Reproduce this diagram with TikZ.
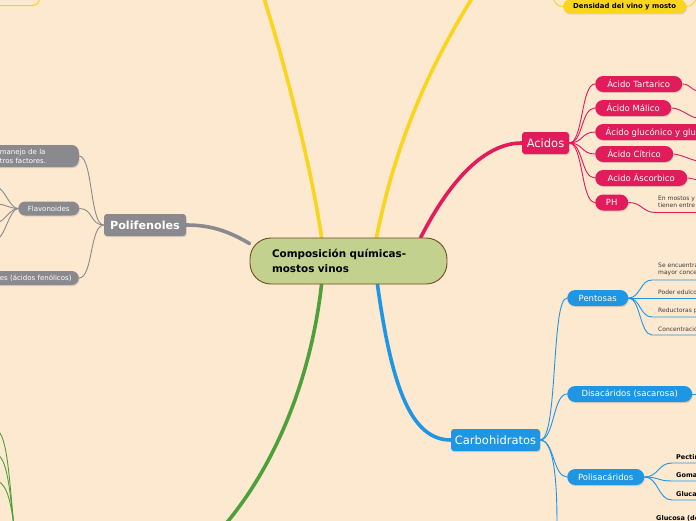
\documentclass[tikz,border=0pt]{standalone}
\usepackage{fontspec}
\setmainfont{DejaVu Sans}
\usepackage{tikz}
\usetikzlibrary{shadows}
\definecolor{Fondo}{RGB}{253,232,208}
\definecolor{Rosa}{RGB}{226,27,90}
\definecolor{Azul}{RGB}{30,150,228}
\definecolor{Gris}{RGB}{138,138,142}
\definecolor{Amarillo}{RGB}{250,213,30}
\definecolor{Verde}{RGB}{78,160,58}
\definecolor{Oliva}{RGB}{194,209,142}
\definecolor{Marron}{RGB}{115,75,30}
\definecolor{Nota}{RGB}{60,60,60}
\pgfdeclarelayer{fondo}
\pgfdeclarelayer{rami}
\pgfsetlayers{fondo,rami,main}
\tikzset{
	sombra/.style={drop shadow={shadow xshift=0.7pt,shadow yshift=-1.2pt,opacity=0.25}},
	pill/.style={sombra, anchor=west, rounded corners=8pt, minimum height=16pt, inner xsep=0pt, inner ysep=0pt, text=white, font=\fontsize{8.5}{10}\selectfont},
	capo/.style={sombra, rounded corners=3pt, minimum height=22pt, inner xsep=0pt, inner ysep=0pt, text=white, font=\fontsize{11.5}{13}\selectfont},
	gpill/.style={sombra, fill=Gris, rounded corners=7pt, minimum height=14pt, inner ysep=0pt, text=white, font=\fontsize{7}{9}\selectfont},
	nota/.style={anchor=west, inner sep=0pt, align=left, text=Nota, font=\fontsize{6}{7}\selectfont},
	notab/.style={anchor=west, inner sep=0pt, text=black, font=\fontsize{6.5}{7.5}\selectfont\bfseries},
	ramo/.style={line width=3.6pt, line cap=round},
	filo/.style={line width=0.9pt},
}
\begin{document}
\begin{tikzpicture}[x=1pt,y=-1pt]
	\useasboundingbox (0,0) rectangle (696,520);
	\clip (0,0) rectangle (696,520);
	\begin{pgfonlayer}{fondo}
		\fill[Fondo] (-5,-5) rectangle (701,525);
	\end{pgfonlayer}
	% Nodes:
	\node[draw=Marron, line width=0.9pt, fill=Oliva, rounded corners=21pt, minimum width=197pt, minimum height=46pt, text width=153pt, inner xsep=22pt, align=left, font=\fontsize{10.4}{15}\selectfont\bfseries] (Cen) at (348.5,261) {Composición químicas-\\mostos vinos};
	\node[capo, fill=Rosa, minimum width=47pt] (A0) at (545.5,143) {Acidos};
	\node[pill, fill=Rosa, minimum width=87pt] (A1) at (595,84) {Ácido Tartarico};
	\node[pill, fill=Rosa, minimum width=76pt] (A2) at (595,108) {Ácido Málico};
	\node[pill, fill=Rosa, inner xsep=10.5pt] (A3) at (595,132) {Ácido glucónico y glucurónico};
	\node[pill, fill=Rosa, minimum width=78pt] (A4) at (595,154) {Ácido Cítrico};
	\node[pill, fill=Rosa, minimum width=92pt] (A5) at (595,178) {Acido Áscorbico};
	\node[pill, fill=Rosa, minimum width=33pt] (A6) at (595,202.5) {PH};
	\node[nota] (A6t) at (658,202) {En mostos y vinos\\tienen entre};
	\node[capo, fill=Azul, minimum width=89pt] (C0) at (495.5,440) {Carbohidratos};
	\node[pill, fill=Azul, minimum width=61pt] (C1) at (567,298) {Pentosas};
	\node[pill, fill=Azul, minimum width=125pt] (C2) at (567,394) {Disacáridos (sacarosa)};
	\node[pill, fill=Azul, minimum width=77pt] (C3) at (567,477) {Polisacáridos};
	\node[nota] (C1a) at (658,269.5) {Se encuentran en\\mayor concentración};
	\node[nota] (C1b) at (658,292) {Poder edulcorante};
	\node[nota] (C1c) at (658,311) {Reductoras por};
	\node[nota] (C1d) at (658,329) {Concentración};
	\node[notab] (C3a) at (676,457) {Pectinas};
	\node[notab] (C3b) at (676,475) {Gomas};
	\node[notab] (C3c) at (676,494) {Glucanos};
	\node[notab] (C4a) at (656,518) {Glucosa (dextrosa)};
	\node[capo, fill=Gris, minimum width=82pt, font=\fontsize{11.2}{13}\selectfont\bfseries] (P0) at (145,225) {Polifenoles};
	\node[gpill, anchor=east, minimum height=22pt, text width=72pt, inner xsep=7pt, align=left] (P1) at (79,156) {manejo de la\\tros factores.};
	\node[gpill, anchor=west, minimum width=61pt, inner xsep=0pt] (P2) at (18,208.5) {Flavonoides};
	\node[gpill, anchor=east, text width=72pt, inner xsep=7pt, align=left] (P3) at (79,278) {es (ácidos fenólicos)};
	\node[draw=Amarillo, line width=1pt, rounded corners=7pt, minimum width=80pt, minimum height=20pt, anchor=south east] (Y0) at (40,6) {};
	\node[pill, fill=Amarillo, minimum width=123pt, minimum height=13.5pt, rounded corners=6.5pt, text=black, font=\fontsize{6.9}{8}\selectfont\bfseries] (Y1) at (563,6.5) {Densidad del vino y mosto};
	% Free ends:
	\coordinate (Ya) at (262,-8);
	\coordinate (Yb) at (476,-8);
	\coordinate (Ga) at (224,526);
	\coordinate (Y1a) at (553,-2);
	\coordinate (Y1b) at (698,-2);
	\coordinate (A1e) at (698,91);
	\coordinate (A2e) at (698,118);
	\coordinate (A4e) at (698,161);
	\coordinate (A5e) at (698,180);
	\coordinate (A6r) at (656,212.5);
	\coordinate (A6e) at (698,212.5);
	\coordinate (C1r1) at (652,280);
	\coordinate (C1e1) at (698,280);
	\coordinate (C1e2) at (698,298);
	\coordinate (C1r3) at (652,317);
	\coordinate (C1e3) at (698,317);
	\coordinate (C1r4) at (652,335);
	\coordinate (C1e4) at (698,335);
	\coordinate (C2e) at (698,394);
	\coordinate (C3r1) at (672,463);
	\coordinate (C3e1) at (698,463);
	\coordinate (C3r2) at (672,481);
	\coordinate (C3e2) at (698,481);
	\coordinate (C3r3) at (672,500);
	\coordinate (C3e3) at (698,500);
	\coordinate (Cb) at (557,526);
	\coordinate (F1) at (-2,188);
	\coordinate (F2) at (-2,204);
	\coordinate (F3) at (-2,222);
	\coordinate (F4) at (-2,238);
	\coordinate (Gb) at (14,526);
	\coordinate (G1) at (-2,431);
	\coordinate (G2) at (-2,455);
	\coordinate (G3) at (-2,481);
	% Paths:
	\begin{pgfonlayer}{rami}
		\draw[ramo, Amarillo] (Cen.139) .. controls (312,170) and (284,60) .. (Ya);
		\draw[ramo, Amarillo] (Cen.40) .. controls (392,160) and (420,80) .. (Yb);
		\draw[ramo, Rosa] (Cen.18) .. controls (450,180) and (485,143) .. (A0.west);
		\draw[ramo, Gris] (Cen.170) .. controls (230,232) and (212,225) .. (P0.east);
		\draw[ramo, Verde] (Cen.221) .. controls (312,370) and (280,460) .. (Ga);
		\draw[ramo, Azul] (Cen.321) .. controls (392,390) and (412,440) .. (C0.west);
		\draw[filo, Rosa] (A0.east) .. controls +(14,0) and +(-14,0) .. (A1.west);
		\draw[filo, Rosa] (A0.east) .. controls +(14,0) and +(-14,0) .. (A2.west);
		\draw[filo, Rosa] (A0.east) .. controls +(14,0) and +(-14,0) .. (A3.west);
		\draw[filo, Rosa] (A0.east) .. controls +(14,0) and +(-14,0) .. (A4.west);
		\draw[filo, Rosa] (A0.east) .. controls +(14,0) and +(-14,0) .. (A5.west);
		\draw[filo, Rosa] (A0.east) .. controls +(14,0) and +(-14,0) .. (A6.west);
		\draw[filo, Rosa] (A1.east) .. controls +(8,0) and +(-6,0) .. (A1e);
		\draw[filo, Rosa] (A2.east) .. controls +(10,0) and +(-8,0) .. (A2e);
		\draw[filo, Rosa] (A4.east) .. controls +(6,0) and +(-4,0) .. (A4e);
		\draw[filo, Rosa] (A5.east) .. controls +(5,0) and +(-4,0) .. (A5e);
		\draw[filo, Rosa] (A6.east) .. controls +(14,0) and +(-14,0) .. (A6r) -- (A6e);
		\draw[filo, Azul] (C0.east) .. controls +(18,0) and +(-16,0) .. (C1.west);
		\draw[filo, Azul] (C0.east) .. controls +(14,0) and +(-14,0) .. (C2.west);
		\draw[filo, Azul] (C0.east) .. controls +(14,0) and +(-14,0) .. (C3.west);
		\draw[filo, Azul] (C0.east) .. controls +(16,0) and +(0,-30) .. (Cb);
		\draw[filo, Azul] (C1.east) .. controls +(12,0) and +(-12,0) .. (C1r1) -- (C1e1);
		\draw[filo, Azul] (C1.east) -- (C1e2);
		\draw[filo, Azul] (C1.east) .. controls +(12,0) and +(-12,0) .. (C1r3) -- (C1e3);
		\draw[filo, Azul] (C1.east) .. controls +(12,0) and +(-12,0) .. (C1r4) -- (C1e4);
		\draw[filo, Azul] (C2.east) -- (C2e);
		\draw[filo, Azul] (C3.east) .. controls +(14,0) and +(-14,0) .. (C3r1) -- (C3e1);
		\draw[filo, Azul] (C3.east) .. controls +(14,0) and +(-14,0) .. (C3r2) -- (C3e2);
		\draw[filo, Azul] (C3.east) .. controls +(14,0) and +(-14,0) .. (C3r3) -- (C3e3);
		\draw[filo, Gris] (P0.west) .. controls +(-14,0) and +(14,0) .. (P1.east);
		\draw[filo, Gris] (P0.west) .. controls +(-14,0) and +(14,0) .. (P2.east);
		\draw[filo, Gris] (P0.west) .. controls +(-14,0) and +(14,0) .. (P3.east);
		\draw[filo, Gris] (P2.west) .. controls +(-8,0) and +(6,0) .. (F1);
		\draw[filo, Gris] (P2.west) .. controls +(-8,0) and +(6,0) .. (F2);
		\draw[filo, Gris] (P2.west) .. controls +(-8,0) and +(6,0) .. (F3);
		\draw[filo, Gris] (P2.west) .. controls +(-8,0) and +(6,0) .. (F4);
		\draw[filo, Verde] (Gb) .. controls (10,490) and (8,438) .. (G1);
		\draw[filo, Verde] (Gb) .. controls (10,495) and (8,461) .. (G2);
		\draw[filo, Verde] (Gb) .. controls (11,505) and (8,486) .. (G3);
		\draw[filo, Amarillo] (Y1a) .. controls +(2,6) and +(-5,0) .. (Y1.west);
		\draw[filo, Amarillo] (Y1.east) .. controls +(6,0) and +(-4,4) .. (Y1b);
	\end{pgfonlayer}
\end{tikzpicture}
\end{document}
